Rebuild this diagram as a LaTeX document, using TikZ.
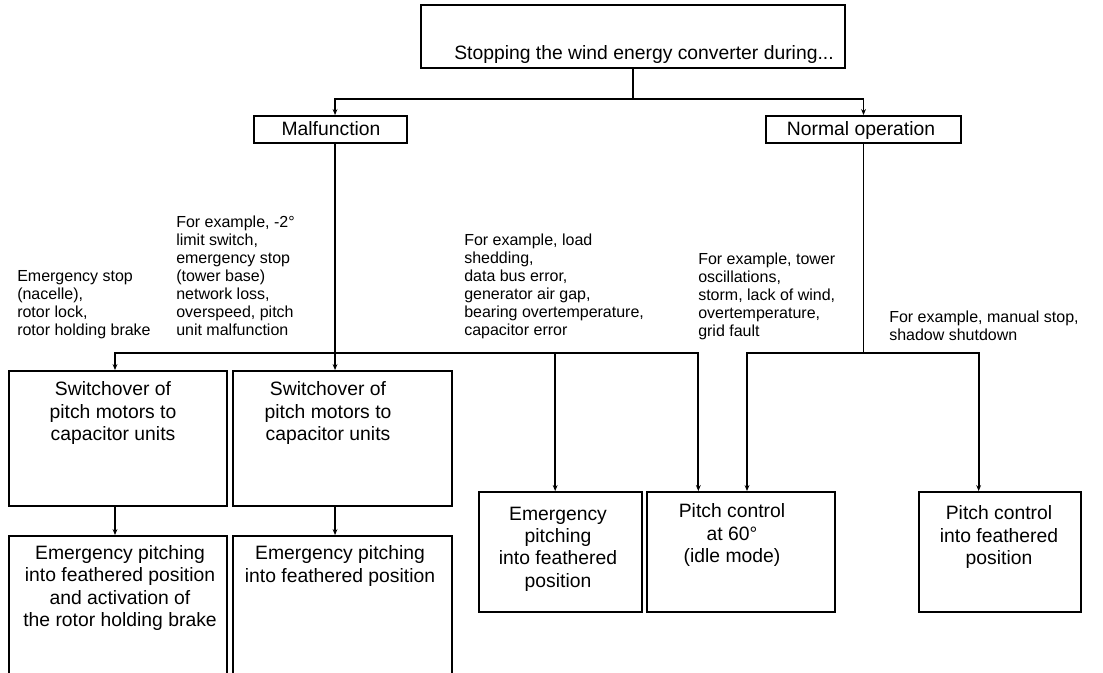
\documentclass[tikz,border=0pt]{standalone}
\usepackage{fontspec}
\setmainfont{Liberation Sans}
\usetikzlibrary{arrows.meta,fit}

\tikzset{
  box/.style={draw, line width=1.4pt, inner sep=0pt},
  boxtext/.style={align=center, inner sep=0pt, font=\fontsize{14.5}{16.8}\selectfont},
  note/.style={align=left, anchor=south west, inner sep=0pt, text depth=0pt,
    font=\fontsize{12}{13.5}\selectfont},
  arr/.style={line width=1.3pt, -{Stealth[length=4.5pt,width=3.6pt]}},
  bus/.style={line width=1.3pt},
}

\begin{document}
\begin{tikzpicture}[x=0.75pt,y=-0.75pt]
            \useasboundingbox (0,0) rectangle (1103,672);
            \clip (0,0) rectangle (1103,672);

            % Top
            \node[box, fit={(421,5) (845,68)}] (top) {};
            \node[boxtext, anchor=base] (toptext) at (644,59) {Stopping the wind energy converter during...};
            \node[box, fit={(254,116) (407,143)}] (mal) {};
            \node[box, fit={(766,116) (961,143)}] (nor) {};
            \node[boxtext, anchor=base] (maltext) at (331,135) {Malfunction};
            \node[boxtext, anchor=base] (nortext) at (861,135) {Normal operation};

            % Boxes
            \node[box, fit={(9,371) (227,506)}] (sw1) {};
            \node[box, fit={(233,371) (452,506)}] (sw2) {};
            \node[box, fit={(9,536) (227,700)}] (low1) {};
            \node[box, fit={(233,536) (452,700)}] (low2) {};
            \node[box, fit={(479,492) (642,612)}] (ep) {};
            \node[box, fit={(647,492) (835,612)}] (pc60) {};
            \node[box, fit={(919,492) (1081,612)}] (fp) {};

            \node[boxtext] (sw1text) at (113,413) {Switchover of\\pitch motors to\\capacitor units};
            \node[boxtext] (sw2text) at (328,413) {Switchover of\\pitch motors to\\capacitor units};
            \node[boxtext] (low1text) at (120,588) {Emergency pitching\\into feathered position\\and activation of\\the rotor holding brake};
            \node[boxtext] (low2text) at (340,566) {Emergency pitching\\into feathered position};
            \node[boxtext] (eptext) at (558,549) {Emergency\\pitching\\into feathered\\position};
            \node[boxtext] (pc60text) at (732,535) {Pitch control\\at 60°\\(idle mode)};
            \node[boxtext] (fptext) at (999,537) {Pitch control\\into feathered\\position};

            % Notes
            \node[note] (n1) at (17,336) {Emergency stop\\(nacelle),\\rotor lock,\\rotor holding brake};
            \node[note] (n2) at (176,336) {For example, -2°\\limit switch,\\emergency stop\\(tower base)\\network loss,\\overspeed, pitch\\unit malfunction};
            \node[note] (n3) at (464,336) {For example, load\\shedding,\\data bus error,\\generator air gap,\\bearing overtemperature,\\capacitor error};
            \node[note] (n4) at (698,337) {For example, tower\\oscillations,\\storm, lack of wind,\\overtemperature,\\grid fault};
            \node[note] (n5) at (889,341) {For example, manual stop,\\shadow shutdown};

            % Connectors
            \draw[arr] (top.south) -- ++(0,30) -| ([xshift=3.4pt]mal.north);
            \draw[arr] (top.south) -- ++(0,30) -| (nor.north);

            \coordinate (mbus) at ([xshift=3.4pt, yshift=12.75pt]mal.south |- sw1.north);
            \coordinate (nbus) at ([yshift=12.75pt]nor.south |- sw1.north);

            \draw[bus] ([xshift=3.4pt]mal.south) -- (mbus);
            \draw[arr] (mbus) -| ([xshift=-2.25pt]sw1.north);
            \draw[arr] (mbus) -- (mbus |- sw2.north);
            \draw[arr] (mbus) -| ([xshift=-4pt]ep.north);
            \draw[arr] (mbus) -| ([xshift=-32pt]pc60.north);

            \draw[bus] (nor.south) -- (nbus);
            \draw[arr] (nbus) -| ([xshift=4.5pt]pc60.north);
            \draw[arr] (nbus) -| ([xshift=-16pt]fp.north);

            \draw[arr] ([xshift=-2.25pt]sw1.south) -- ([xshift=-2.25pt]low1.north);
            \draw[arr] (sw2.south -| mbus) -- (low2.north -| mbus);
        \end{tikzpicture}
\end{document}
